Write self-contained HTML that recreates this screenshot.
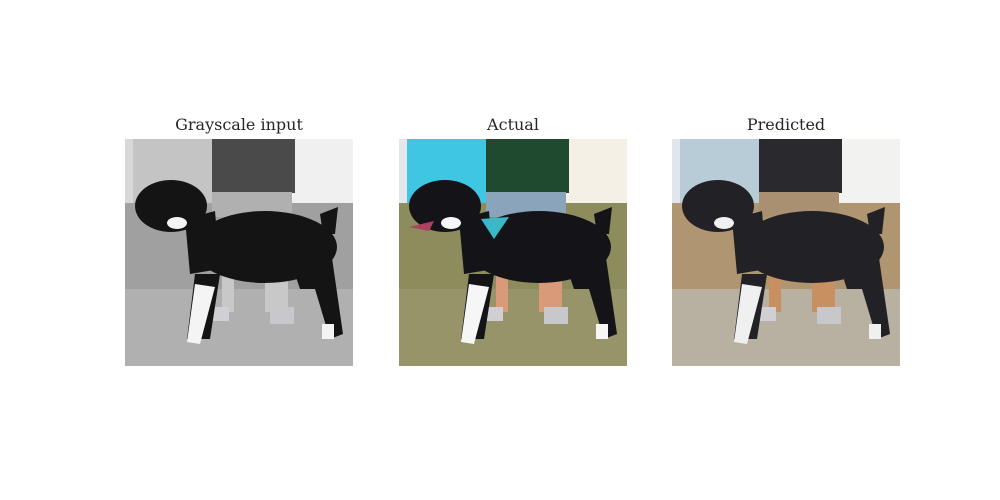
<!DOCTYPE html>
<html><head><meta charset="utf-8"><style>
body{margin:0;background:#fff;width:1000px;height:500px;position:relative;overflow:hidden;font-family:"DejaVu Serif","Liberation Serif",serif}
.t{position:absolute;top:115px;width:228px;text-align:center;font-size:16px;color:#262626}
svg{position:absolute;top:139px}
</style></head><body>
<div class="t" style="left:125px">Grayscale input</div>
<div class="t" style="left:399px">Actual</div>
<div class="t" style="left:672px">Predicted</div>
<div id="root"></div>
<script>
const lefts=[125,399,672];
const names=['grayscale-image','actual-image','predicted-image'];
const pals=[
 {bg:'#d8d8d8',wall:'#c4c4c4',grass:'#a0a0a0',grass2:'#b0b0b0',shirt:'#4a4a4a',jeans:'#b0b0b0',skin:'#c8c8c8',fence:'#f0f0f0',dog:'#141414',white:'#f4f4f4'},
 {bg:'#e4e8ec',wall:'#3ec6e2',grass:'#8c8c5c',grass2:'#969468',shirt:'#1f4a30',jeans:'#8aa4bc',skin:'#d89a78',fence:'#f4f0e6',dog:'#141418',white:'#f6f6f6'},
 {bg:'#e0e6ec',wall:'#b8ccd8',grass:'#b09670',grass2:'#b8b0a0',shirt:'#2a2a2e',jeans:'#a89070',skin:'#c89060',fence:'#f2f2f0',dog:'#222226',white:'#f0f0f0'}
];
const root=document.getElementById('root');
pals.forEach((p,i)=>{
 const s=`<svg width="228" height="227" viewBox="0 0 228 227" style="left:${lefts[i]}px">
 <rect width="228" height="227" fill="${p.bg}"/>
 <rect x="8" y="0" width="82" height="66" fill="${p.wall}"/>
 <rect x="165" y="0" width="63" height="70" fill="${p.fence}"/>
 <rect x="0" y="64" width="228" height="163" fill="${p.grass}"/>
 <rect x="0" y="150" width="228" height="77" fill="${p.grass2}"/>
 <rect x="87" y="0" width="83" height="54" fill="${p.shirt}"/>
 <rect x="87" y="53" width="80" height="25" fill="${p.jeans}"/>
 <rect x="97" y="125" width="12" height="48" fill="${p.skin}"/>
 <rect x="140" y="125" width="23" height="48" fill="${p.skin}"/>
 <rect x="88" y="168" width="16" height="14" fill="#d0d0d4"/>
 <rect x="145" y="168" width="24" height="17" fill="#c8c8cc"/>
 <ellipse cx="140" cy="108" rx="72" ry="36" fill="${p.dog}"/>
 <ellipse cx="46" cy="67" rx="36" ry="26" fill="${p.dog}"/>
 <polygon points="60,80 90,72 95,130 65,135" fill="${p.dog}"/>
 <polygon points="195,75 213,68 210,95 198,95" fill="${p.dog}"/>
 <polygon points="70,135 95,135 85,200 62,200" fill="${p.dog}"/>
 <polygon points="165,120 205,105 218,195 205,200 190,150 175,150" fill="${p.dog}"/>
 <polygon points="70,145 90,148 75,205 62,203" fill="${p.white}"/>
 <ellipse cx="52" cy="84" rx="10" ry="6" fill="${p.white}"/>
 <rect x="197" y="185" width="12" height="15" fill="${p.white}"/>
 ${i==1?'<polygon points="82,80 110,78 95,100" fill="#38b8c8"/><polygon points="10,88 35,82 30,92" fill="#b04060"/>':''}
 </svg>`;
 root.insertAdjacentHTML('beforeend',s);
});
</script>
</body></html>
